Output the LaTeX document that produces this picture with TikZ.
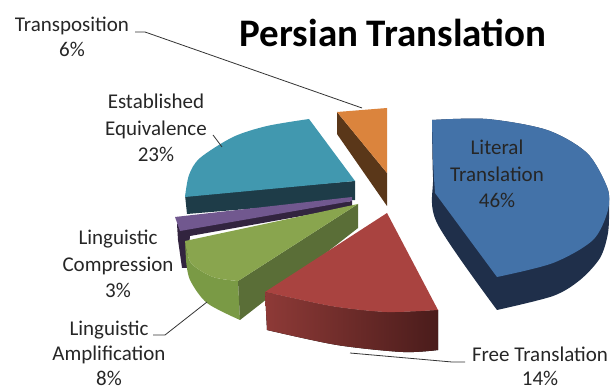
\documentclass[tikz,border=0pt]{standalone}
\usepackage{fontspec}
\setmainfont{Carlito}
\usepackage{tikz}

\definecolor{literaltop}{HTML}{4372A8}
\definecolor{literalside}{HTML}{1F2F4A}
\definecolor{freetop}{HTML}{A94340}
\definecolor{freeside}{HTML}{8E3A37}
\definecolor{freedark}{HTML}{4A1C1B}
\definecolor{ampltop}{HTML}{89A54E}
\definecolor{amplside}{HTML}{5A6E37}
\definecolor{amplout}{HTML}{7A9A45}
\definecolor{comprtop}{HTML}{71588F}
\definecolor{comprside}{HTML}{32243F}
\definecolor{equivtop}{HTML}{4198AF}
\definecolor{equivside}{HTML}{1E3C48}
\definecolor{transtop}{HTML}{DB843D}
\definecolor{transside}{HTML}{5A3719}

\tikzset{
  pielabel/.style={align=center, inner sep=0pt, anchor=base,
    font=\fontsize{21}{26.5}\selectfont, text=black!85},
  leader/.style={black!80, line width=0.8pt},
}

\begin{document}
\begin{tikzpicture}[x=1pt, y=-1pt]
  \useasboundingbox (0,0) rectangle (611,390);

  % Transposition
  \fill[transside] (337,112) -- (387,173) -- (387,206) -- (337,134) -- cycle;
  \fill[transtop] (337,112) -- (387,108) -- (387,173) -- cycle;

  % Established Equivalence
  \fill[equivside] (185,195) -- (355,181) -- (355,200) -- (187,214) -- cycle;
  \fill[equivtop] plot[smooth] coordinates {(185,197) (189,175) (200,158) (233,137) (267,126) (309,119)}
    -- (355,181) -- cycle;

  % Linguistic Compression
  \fill[comprside] (177,224) -- (352,201) -- (352,207) -- (190,236) -- (187,268) -- (182,268) -- (178,240) -- cycle;
  \fill[comprtop] (175,217) -- (352,197) -- (352,201) -- (180,231) -- cycle;

  % Linguistic Amplification
  \fill[amplout] plot[smooth] coordinates {(185,241) (191,263) (213,277) (238,281)}
    -- (240,320) -- plot[smooth] coordinates {(240,320) (207,303) (190,280) (186,260)} -- cycle;
  \fill[amplside] (238,281) -- (358,204) -- (358,228) -- (240,320) -- cycle;
  \fill[ampltop] (358,204) -- (238,281)
    -- plot[smooth] coordinates {(238,281) (213,277) (191,263) (185,241)} -- cycle;

  % Free Translation
  \fill[left color=freeside, right color=freedark]
    plot[smooth] coordinates {(265,292) (297,299) (337,307) (387,312) (438,310)}
    -- (438,350) -- plot[smooth] coordinates {(438,350) (403,352) (337,345) (267,330)} -- cycle;
  \fill[freetop] (387,213) -- (438,310)
    -- plot[smooth] coordinates {(438,310) (387,312) (337,307) (297,299) (265,292)} -- cycle;

  % Literal Translation
  \fill[literalside] plot[smooth] coordinates {(432,120) (487,119) (547,130) (587,153) (607,187)
      (609,205) (608,233) (600,258) (580,280) (553,296) (497,310)}
    -- plot[smooth] coordinates {(497,310) (437,223) (433,177) (432,120)} -- cycle;
  \fill[literaltop] plot[smooth] coordinates {(432,120) (487,119) (547,130) (587,153) (607,187)
      (608,210) (593,240) (553,263) (497,277)}
    -- (435,193) -- plot[smooth] coordinates {(435,193) (433,160) (432,120)} -- cycle;

  % Labels (placed at the baseline of their last line)
  \node[font=\fontsize{39}{44}\selectfont\bfseries, anchor=base] (title) at (393,47) {Persian Translation};
  \node[pielabel] (lblLiteral) at (497,208) {Literal\\Translation\\46\%};
  \node[pielabel, font=\fontsize{21}{24}\selectfont] (lblFree) at (540,385) {Free Translation\\14\%};
  \node[pielabel, font=\fontsize{21}{25}\selectfont] (lblAmpl) at (109,385) {Linguistic\\Amplification\\8\%};
  \node[pielabel] (lblCompr) at (118,298) {Linguistic\\Compression\\3\%};
  \node[pielabel] (lblEquiv) at (156,162) {Established\\Equivalence\\23\%};
  \node[pielabel, font=\fontsize{21}{25}\selectfont] (lblTrans) at (72,57) {Transposition\\6\%};

  % Leader lines
  \coordinate (transFoot) at (135,32);
  \coordinate (transTip) at (362,108);
  \coordinate (equivFoot) at (213,135);
  \coordinate (equivTip) at (222,147);
  \coordinate (amplFoot) at (153,335);
  \coordinate (amplTip) at (207,302);
  \coordinate (freeFoot) at (465,362);
  \coordinate (freeTip) at (350,353);
  \draw[leader] (transFoot) -- ++(10,0) -- (transTip);
  \draw[leader] (equivFoot) -- (equivTip);
  \draw[leader] (amplFoot) -- ++(12,0) -- (amplTip);
  \draw[leader] (freeFoot) -- ++(-13,0) -- (freeTip);
\end{tikzpicture}
\end{document}
